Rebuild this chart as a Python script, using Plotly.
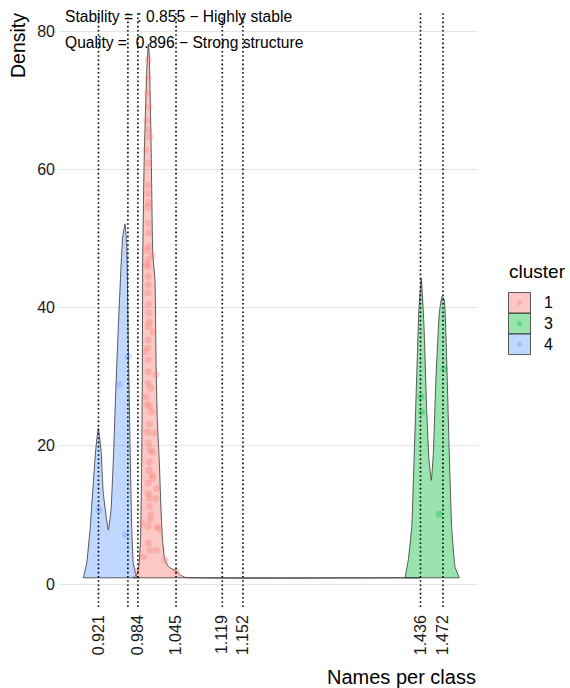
import plotly.graph_objects as go

# ---------------- data ----------------
clusters = ["1", "3", "4"]
colors = {"1": "#F8766D", "3": "#00BA38", "4": "#619CFF"}
fills = {"1": "rgba(248,118,109,0.4)", "3": "rgba(0,186,56,0.4)", "4": "rgba(97,156,255,0.4)"}

# density outlines
dens_x_1 = [0.9762, 0.9826, 0.9858, 0.9882, 0.9898, 0.9911, 0.9917, 0.9938, 0.9962, 0.9986,
            1.0007, 1.0023, 1.0034, 1.0050, 1.0061, 1.0077, 1.0114, 1.0130, 1.0150, 1.0182,
            1.0210, 1.0234, 1.0266, 1.0320, 1.0380, 1.0455, 1.0520, 1.0600, 1.4360]
dens_y_1 = [0.9, 1.45, 2.75, 6.4, 15.0, 29.5, 46.9, 60.2, 68.7, 75.1,
            78.1, 76.5, 71.9, 64.2, 57.4, 47.9, 43.9, 32.4, 23.7, 17.9,
            10.7, 6.4, 3.8, 2.6, 2.2, 1.9, 1.3, 0.95, 0.9]

dens_x_3 = [1.4112, 1.4165, 1.4220, 1.4256, 1.4299, 1.4336, 1.4373, 1.4416, 1.4459, 1.4496,
            1.4533, 1.4565, 1.4608, 1.4661, 1.4704, 1.4741, 1.4779, 1.4816, 1.4859, 1.4912, 1.4981]
dens_y_3 = [0.9, 3.5, 8.2, 17.6, 30.0, 40.0, 44.2, 37.3, 25.2, 17.9,
            15.0, 18.9, 30.0, 39.2, 41.6, 41.1, 32.4, 20.3, 8.2, 2.5, 0.9]

dens_x_4 = [0.8967, 0.9021, 0.9074, 0.9127, 0.9165, 0.9207, 0.9250, 0.9287, 0.9367, 0.9410,
            0.9447, 0.9485, 0.9527, 0.9570, 0.9597, 0.9634, 0.9661, 0.9687, 0.9714, 0.9741,
            0.9767, 0.9821, 0.9874]
dens_y_4 = [0.9, 3.0, 7.8, 14.6, 19.4, 22.5, 19.4, 13.1, 7.8, 10.7,
            17.9, 27.6, 37.2, 45.9, 50.2, 52.1, 49.2, 34.8, 20.3, 8.2,
            3.0, 1.1, 0.9]

# jittered observations
pts_x_1 = [1.0007, 1.0007, 0.9997, 1.0023, 0.9981, 1.0007, 1.0034, 0.9965, 1.0002, 1.0002,
           1.0007, 1.0007, 0.9997, 1.0013, 1.0013, 1.0018, 1.0071, 0.9981, 1.0007, 1.0007,
           0.9981, 1.0007, 1.0007, 0.9997, 1.0018, 1.0023, 1.0007, 1.0087, 1.0007, 0.9997,
           0.9954, 1.0007, 1.0130, 1.0007, 1.0007, 0.9970, 1.0023, 1.0061, 1.0023, 1.0098,
           1.0007, 1.0034, 1.0077, 1.0023, 1.0061, 1.0077, 1.0007, 1.0141, 1.0007, 1.0023,
           1.0130, 1.0023, 0.9901, 1.0034, 1.0007, 1.0151, 1.0183, 1.0007, 1.0034, 0.9927,
           1.0141, 1.0274, 1.0461, 0.9821, 1.0010, 0.9990, 1.0040, 1.0015, 0.9995, 1.0050]
pts_y_1 = [75.8, 73.2, 71.0, 69.0, 67.1, 65.7, 64.7, 62.8, 60.9, 57.7,
           56.5, 55.2, 54.5, 52.2, 50.8, 48.8, 47.6, 48.3, 46.9, 45.9,
           46.2, 44.5, 43.3, 42.1, 39.2, 37.9, 37.2, 36.5, 35.3, 34.1,
           33.6, 32.4, 30.3, 30.7, 29.0, 27.1, 25.7, 24.9, 23.2, 21.8,
           20.4, 19.4, 19.1, 17.7, 15.8, 15.3, 14.6, 13.8, 13.1, 12.4,
           12.4, 11.2, 8.8, 9.3, 8.3, 8.3, 7.9, 5.9, 4.9, 3.9,
           4.9, 3.5, 1.8, 1.8, 40.5, 26.0, 28.3, 16.5, 22.0, 10.0]

pts_x_3 = [1.4368, 1.4379, 1.4741, 1.4661]
pts_y_3 = [27.1, 24.9, 31.1, 10.1]

pts_x_4 = [0.9687, 0.9538, 0.9218, 0.9645]
pts_y_4 = [32.9, 28.9, 10.7, 7.1]

vline_x = [0.921, 0.968, 0.984, 1.045, 1.119, 1.152, 1.436, 1.472]
tick_vals = [0.921, 0.984, 1.045, 1.119, 1.152, 1.436, 1.472]
tick_text = ["0.921", "0.984", "1.045", "1.119", "1.152", "1.436", "1.472"]
y_ticks = [0, 20, 40, 60, 80]

stability_text = "Stability = : 0.855 \u2212 Highly stable"
quality_text = "Quality =  0.896 \u2212 Strong structure"

dens = {"1": (dens_x_1, dens_y_1), "3": (dens_x_3, dens_y_3), "4": (dens_x_4, dens_y_4)}
pts = {"1": (pts_x_1, pts_y_1), "3": (pts_x_3, pts_y_3), "4": (pts_x_4, pts_y_4)}

# ---------------- figure ----------------
W, H = 570, 688
L, R, T, B = 59, 478, 12, 607
FONT = "Liberation Sans, Arial, sans-serif"
TXT = "#1a1a1a"

fig = go.Figure()
for c in clusters:
    xs, ys = dens[c]
    fig.add_trace(go.Scatter(
        x=list(xs) + [xs[-1], xs[0], xs[0]], y=list(ys) + [ys[-1], ys[0], ys[0]],
        mode="lines", fill="toself", fillcolor=fills[c],
        line=dict(color="#333333", width=0.8, shape="spline", smoothing=0.35),
        showlegend=False, hoverinfo="skip"))
for c in clusters:
    xs, ys = pts[c]
    fig.add_trace(go.Scatter(
        x=xs, y=ys, mode="markers",
        marker=dict(color=colors[c], size=7, opacity=0.3, line=dict(width=0)),
        showlegend=False))

for v in vline_x:
    fig.add_shape(type="line", xref="x", yref="paper", x0=v, x1=v, y0=0, y1=1,
                  line=dict(color="black", width=1.6, dash="1.6px,2.6px"), layer="above")


def px(xp):
    return (xp - L) / (R - L)


def py(yp):
    return (B - yp) / (B - T)


# annotations (top-left texts)
fig.add_annotation(x=px(63), y=py(17), xref="paper", yref="paper", text=stability_text,
                   showarrow=False, xanchor="left", yanchor="middle",
                   font=dict(family=FONT, size=15.6, color="black"))
fig.add_annotation(x=px(63), y=py(42), xref="paper", yref="paper", text=quality_text,
                   showarrow=False, xanchor="left", yanchor="middle",
                   font=dict(family=FONT, size=15.6, color="black"))

# axis titles
fig.add_annotation(x=px(18), y=py(46), xref="paper", yref="paper", text="Density",
                   showarrow=False, textangle=-90, xanchor="center", yanchor="middle",
                   font=dict(family=FONT, size=19.5, color="black"))
fig.add_annotation(x=1, y=py(677), xref="paper", yref="paper", text="Names per class",
                   showarrow=False, xanchor="right", yanchor="middle",
                   font=dict(family=FONT, size=20, color="black"))

# legend (drawn manually)
fig.add_annotation(x=px(507), y=py(271), xref="paper", yref="paper", text="cluster",
                   showarrow=False, xanchor="left", yanchor="middle",
                   font=dict(family=FONT, size=19, color="black"))
key_top = 292.5
key_h = 20.7
for i, c in enumerate(clusters):
    y0 = key_top + i * key_h
    y1 = y0 + key_h
    fig.add_shape(type="rect", xref="paper", yref="paper",
                  x0=px(508.5), x1=px(530.5), y0=py(y1), y1=py(y0),
                  fillcolor=fills[c], line=dict(color="#333333", width=0.8))
    fig.add_shape(type="circle", xref="paper", yref="paper",
                  x0=px(517), x1=px(522), y0=py((y0 + y1) / 2 + 2.5), y1=py((y0 + y1) / 2 - 2.5),
                  fillcolor=colors[c], opacity=0.35, line=dict(width=0))
    fig.add_annotation(x=px(542), y=py((y0 + y1) / 2), xref="paper", yref="paper", text=c,
                       showarrow=False, xanchor="left", yanchor="middle",
                       font=dict(family=FONT, size=16, color="black"))

px_per_y = (584 - 31) / 80.0
y_top = 80 + (31 - T) / px_per_y
y_bot = -(B - 584) / px_per_y
px_per_x = (443 - 98.5) / (1.472 - 0.921)
x_left = 0.921 + (L - 98.5) / px_per_x
x_right = 0.921 + (R - 98.5) / px_per_x

fig.update_layout(
    width=W, height=H,
    margin=dict(l=L, r=W - R, t=T, b=H - B),
    plot_bgcolor="white", paper_bgcolor="white",
    showlegend=False,
    xaxis=dict(range=[x_left, x_right], showgrid=False, zeroline=False,
               tickmode="array", tickvals=tick_vals, ticktext=tick_text,
               tickangle=-90, ticks="", ticklabelstandoff=4,
               tickfont=dict(family=FONT, size=16, color=TXT), showline=False),
    yaxis=dict(range=[y_bot, y_top], showgrid=True, gridcolor="#e6e6e6", gridwidth=1.1,
               zeroline=False, tickmode="array", tickvals=y_ticks,
               ticks="", ticklabelstandoff=3,
               tickfont=dict(family=FONT, size=16, color=TXT), showline=False),
)

fig.write_html("out.html")
